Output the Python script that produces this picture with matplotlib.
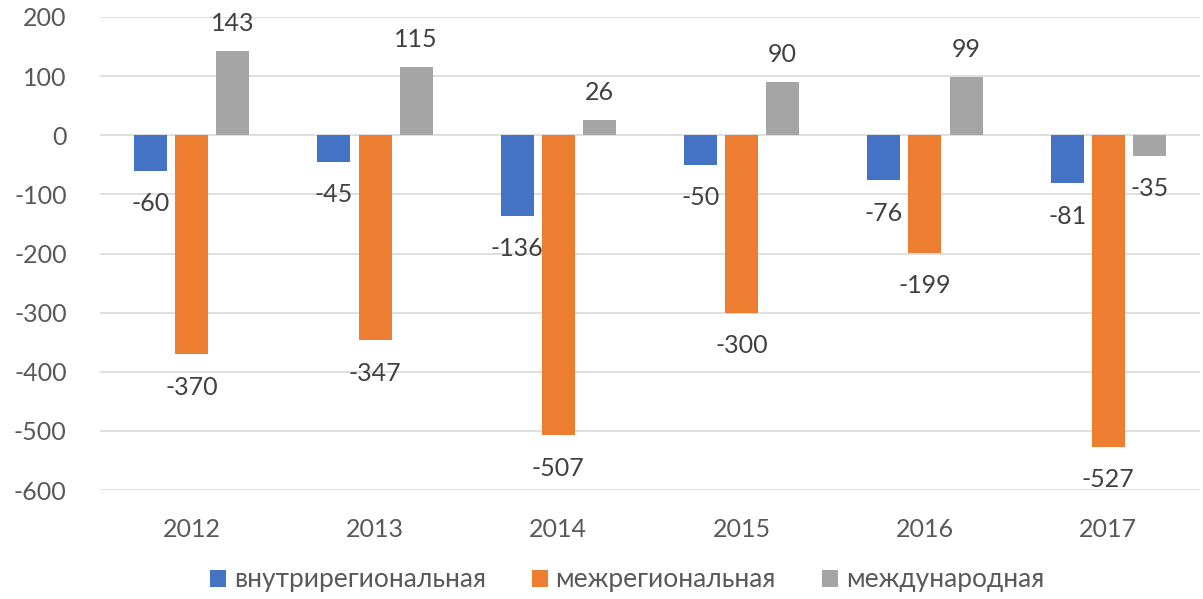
import matplotlib
matplotlib.use("Agg")
import matplotlib.pyplot as plt
import numpy as np
from matplotlib.patches import Patch

years = ["2012", "2013", "2014", "2015", "2016", "2017"]
series_names = ["внутрирегиональная", "межрегиональная", "международная"]
intra = [-60, -45, -136, -50, -76, -81]
inter = [-370, -347, -507, -300, -199, -527]
intl = [143, 115, 26, 90, 99, -35]
colors = ["#4472C4", "#ED7D31", "#A5A5A5"]

plt.rcParams['font.family'] = ['Lato', 'Open Sans', 'DejaVu Sans']
plt.rcParams['axes.unicode_minus'] = False

fig = plt.figure(figsize=(12.03, 5.99), dpi=100)
ax = fig.add_axes([100/1203, 1-490/599, 1100/1203, (490-17)/599])

x = np.arange(len(years))
width = 0.18
step = 0.224
label_color = "#404040"
fs = 18

for i, (vals, c) in enumerate(zip([intra, inter, intl], colors)):
    pos = x + (i - 1) * step
    ax.bar(pos, vals, width=width, color=c, zorder=3)
    for xp, v in zip(pos, vals):
        if v >= 0:
            ax.annotate(str(v), (xp, v), xytext=(0, 14.4), textcoords="offset points",
                        ha="center", va="baseline", fontsize=fs, color=label_color)
        else:
            ax.annotate(str(v), (xp, v), xytext=(0, -15.5), textcoords="offset points",
                        ha="center", va="top", fontsize=fs, color=label_color)

ax.set_ylim(-600, 200)
ax.set_xlim(-0.5, 5.5)
ax.set_yticks(np.arange(-600, 201, 100))
ax.set_xticks(x)
ax.set_xticklabels(years)
ax.grid(axis="y", color="#D9D9D9", linewidth=1.2, zorder=0)
ax.set_axisbelow(True)
for s in ax.spines.values():
    s.set_visible(False)
ax.tick_params(axis="both", length=0, labelsize=fs, labelcolor="#595959")
ax.tick_params(axis="y", pad=24)
ax.tick_params(axis="x", pad=20)

handles = [Patch(facecolor=c, edgecolor="none") for c in colors]
fig.legend(handles, series_names, loc="center", bbox_to_anchor=(627/1203, 1-580/599),
           ncol=3, frameon=False, fontsize=19, labelcolor="#595959",
           handlelength=0.6, handleheight=0.6, handletextpad=0.3, columnspacing=1.75)

fig.savefig("out.png", dpi=100)
